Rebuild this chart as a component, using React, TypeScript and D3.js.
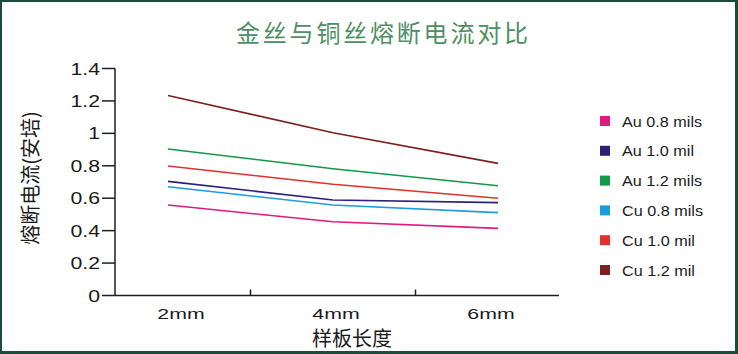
import React from "react";
import * as d3 from "d3";

const categories = ["2mm", "4mm", "6mm"];
const seriesNames = ["Au 0.8 mils", "Au 1.0 mil", "Au 1.2 mils", "Cu 0.8 mils", "Cu 1.0 mil", "Cu 1.2 mil"];
const au08 = [0.558, 0.455, 0.414];
const au10 = [0.704, 0.589, 0.573];
const au12 = [0.904, 0.782, 0.677];
const cu08 = [0.671, 0.558, 0.511];
const cu10 = [0.799, 0.686, 0.6];
const cu12 = [1.233, 1.004, 0.815];
const seriesValues = [au08, au10, au12, cu08, cu10, cu12];
const seriesColors = ["#e2197f", "#2b2178", "#0f9a4a", "#1a9de0", "#e2312b", "#7b1f1f"];
const yTicks = [0, 0.2, 0.4, 0.6, 0.8, 1, 1.2, 1.4];
const title = "金丝与铜丝熔断电流对比";
const xTitle = "样板长度";
const yTitle = "熔断电流(安培)";

const W = 738;
const H = 354;
const latin = "'Liberation Sans', Arial, sans-serif";
const cjk = "'Noto Sans CJK SC', sans-serif";

function SText({ x, y, sx, children, ...rest }: any) {
  return (
    <text transform={`translate(${x},${y}) scale(${sx},1)`} {...rest}>
      {children}
    </text>
  );
}

export default function App() {
  const axisLeft = 115;
  const axisRight = 559;
  const y = d3.scaleLinear().domain([0, 1.4]).range([295.5, 68.5]);
  const x = d3.scalePoint<string>().domain(categories).range([168, 498]);
  const xLabel = d3.scalePoint<string>().domain(categories).range([181, 491]);
  const line = d3
    .line<number>()
    .x((_, i) => x(categories[i]) as number)
    .y((d) => y(d));
  const step = x.step();
  const xTickPos = categories.slice(1).map((c) => (x(c) as number) - step / 2);
  const legendY = d3.scalePoint<string>().domain(seriesNames).range([121, 270]);
  const axisColor = "#1e1e1e";

  return (
    <svg
      width={W}
      height={H}
      style={{ position: "absolute", left: 0, top: 0, display: "block" }}
    >
      <rect x={0} y={0} width={W} height={H} fill="#1c4a3b" />
      <rect x={2} y={2} width={W - 5} height={H - 5} fill="#ffffff" />

      <text
        x={236}
        y={42}
        fontFamily={cjk}
        fontSize={24}
        letterSpacing={2.8}
        fill="#4d8f62"
      >
        {title}
      </text>

      {/* y axis */}
      <line x1={axisLeft} x2={axisLeft} y1={y(1.4)} y2={y(0)} stroke={axisColor} strokeWidth={1.5} />
      {yTicks.map((t) => (
        <g key={t}>
          <line x1={102} x2={axisLeft} y1={y(t)} y2={y(t)} stroke={axisColor} strokeWidth={1.5} />
          <SText
            x={100}
            y={y(t) + 6}
            sx={1.25}
            textAnchor="end"
            fontFamily={latin}
            fontSize={17}
            fill="#1a1a1a"
          >
            {String(+t.toFixed(1))}
          </SText>
        </g>
      ))}

      {/* x axis */}
      <line x1={axisLeft} x2={axisRight} y1={y(0)} y2={y(0)} stroke={axisColor} strokeWidth={1.5} />
      {xTickPos.map((p, i) => (
        <line key={i} x1={p} x2={p} y1={y(0)} y2={y(0) - 6} stroke={axisColor} strokeWidth={1.5} />
      ))}
      {categories.map((c) => (
        <SText
          key={c}
          x={xLabel(c)}
          y={319}
          sx={1.42}
          textAnchor="middle"
          fontFamily={latin}
          fontSize={15}
          fill="#1a1a1a"
        >
          {c}
        </SText>
      ))}

      <text x={352} y={346} textAnchor="middle" fontFamily={cjk} fontSize={20} fill="#1a1a1a">
        {xTitle}
      </text>
      <text
        transform={`translate(29,178) rotate(-90)`}
        textAnchor="middle"
        dominantBaseline="central"
        fontFamily={cjk}
        fontSize={20}
        fill="#1a1a1a"
      >
        {yTitle}
      </text>

      {/* lines */}
      {seriesValues.map((vals, i) => (
        <path
          key={seriesNames[i]}
          d={line(vals) as string}
          fill="none"
          stroke={seriesColors[i]}
          strokeWidth={1.6}
        />
      ))}

      {/* legend */}
      {seriesNames.map((n, i) => (
        <g key={n}>
          <rect
            x={600}
            y={(legendY(n) as number) - 5}
            width={10}
            height={10}
            fill={seriesColors[i]}
          />
          <SText
            x={622}
            y={(legendY(n) as number) + 5.5}
            sx={1.08}
            fontFamily={latin}
            fontSize={15}
            fill="#1a1a1a"
          >
            {n}
          </SText>
        </g>
      ))}
    </svg>
  );
}
